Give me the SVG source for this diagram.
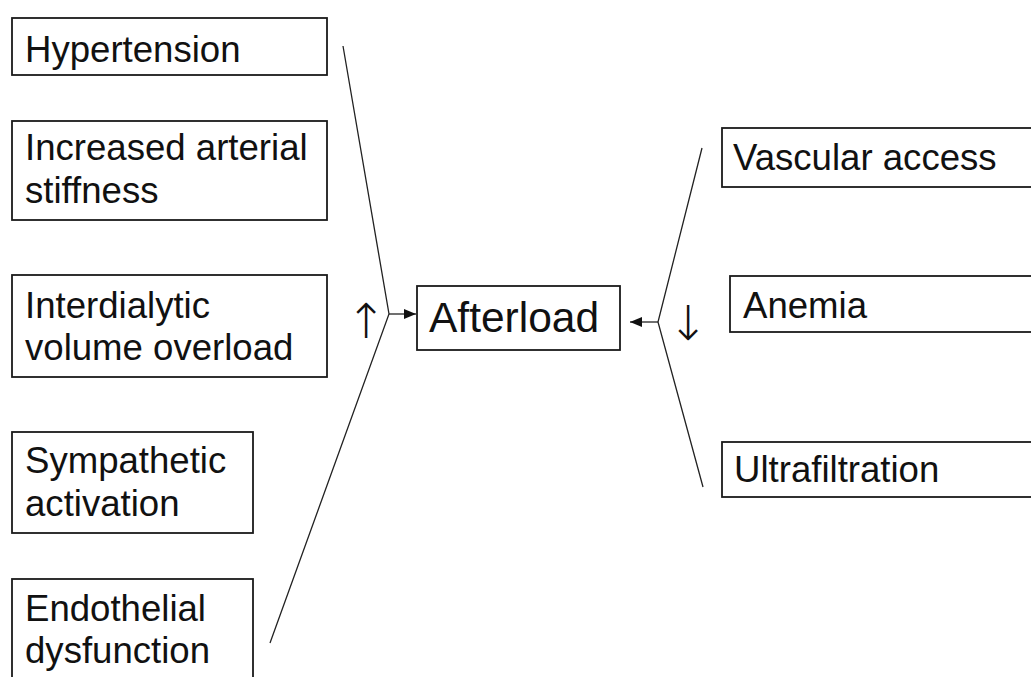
<svg xmlns="http://www.w3.org/2000/svg" width="1031" height="677" viewBox="0 0 1031 677">
<style>
  .box { fill: #ffffff; stroke: #1a1a1a; stroke-width: 1.8; }
  .t { font-family: "Liberation Sans", Arial, sans-serif; font-size: 36.6px; fill: #111111; }
  .big { font-size: 42.5px; }
  .arr { font-family: "DejaVu Sans", sans-serif; font-weight: 200; font-size: 48px; fill: #111111; }
  .ln { stroke: #222222; stroke-width: 1.3; fill: none; }
</style>
<defs>
  <marker id="ah" viewBox="0 0 12 10" refX="12" refY="5" markerWidth="12" markerHeight="10" markerUnits="userSpaceOnUse" orient="auto">
    <path d="M0,0 L12,5 L0,10 z" fill="#111111"/>
  </marker>
</defs>
<rect width="1031" height="677" fill="#ffffff"/>

<g id="connectors">
  <polyline class="ln" points="343,46 389,314 270,643"/>
  <line class="ln" x1="389" y1="314" x2="416" y2="314" marker-end="url(#ah)"/>
  <polyline class="ln" points="702,148 658,322 703,487"/>
  <line class="ln" x1="658" y1="322" x2="630" y2="322" marker-end="url(#ah)"/>
  <text class="arr" x="366" y="338" text-anchor="middle">↑</text>
  <text class="arr" x="688" y="340" text-anchor="middle">↓</text>
</g>

<g id="hypertension">
  <rect class="box" x="12" y="18" width="315" height="57"/>
  <text class="t" x="25" y="62">Hypertension</text>
</g>
<g id="stiffness">
  <rect class="box" x="12" y="121" width="315" height="99"/>
  <text class="t" x="25" y="160">Increased arterial</text>
  <text class="t" x="25" y="203">stiffness</text>
</g>
<g id="volume">
  <rect class="box" x="12" y="275" width="315" height="102"/>
  <text class="t" x="25" y="318">Interdialytic</text>
  <text class="t" x="25" y="360">volume overload</text>
</g>
<g id="sympathetic">
  <rect class="box" x="12" y="432" width="241" height="101"/>
  <text class="t" x="25" y="473">Sympathetic</text>
  <text class="t" x="25" y="516">activation</text>
</g>
<g id="endothelial">
  <rect class="box" x="12" y="579" width="241" height="120"/>
  <text class="t" x="25" y="621">Endothelial</text>
  <text class="t" x="25" y="663">dysfunction</text>
</g>
<g id="afterload">
  <rect class="box" x="417" y="286" width="203" height="64"/>
  <text class="t big" x="429" y="332">Afterload</text>
</g>
<g id="vascular">
  <rect class="box" x="722" y="128" width="330" height="59"/>
  <text class="t" x="733" y="170">Vascular access</text>
</g>
<g id="anemia">
  <rect class="box" x="730" y="276" width="330" height="56"/>
  <text class="t" x="743" y="318">Anemia</text>
</g>
<g id="ultrafiltration">
  <rect class="box" x="722" y="442" width="330" height="55"/>
  <text class="t" x="734" y="482">Ultrafiltration</text>
</g>
</svg>
